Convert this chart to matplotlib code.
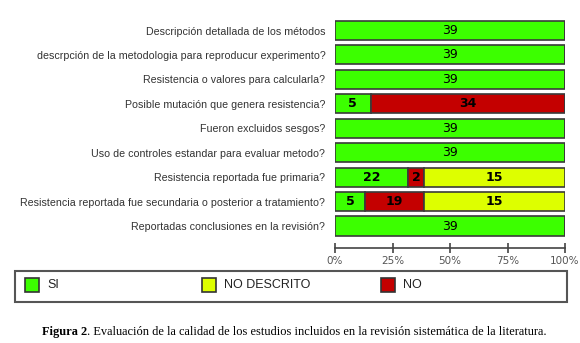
import matplotlib
matplotlib.use("Agg")
import matplotlib.pyplot as plt
from matplotlib.patches import Rectangle

# preguntas (de arriba hacia abajo)
preguntas = [
    "Descripción detallada de los métodos",
    "descrpción de la metodologia para reproducur experimento?",
    "Resistencia o valores para calcularla?",
    "Posible mutación que genera resistencia?",
    "Fueron excluidos sesgos?",
    "Uso de controles estandar para evaluar metodo?",
    "Resistencia reportada fue primaria?",
    "Resistencia reportada fue secundaria o posterior a tratamiento?",
    "Reportadas conclusiones en la revisión?",
]

# ancho de cada segmento en % tal como aparece en la figura
si_pct = [100, 100, 100, 15.5, 100, 100, 31.6, 13.0, 100]
no_pct = [0, 0, 0, 84.5, 0, 0, 7.2, 25.8, 0]
nd_pct = [0, 0, 0, 0, 0, 0, 61.2, 61.2, 0]

# numero de estudios escrito en cada segmento
si_n = [39, 39, 39, 5, 39, 39, 22, 5, 39]
no_n = [0, 0, 0, 34, 0, 0, 2, 19, 0]
nd_n = [0, 0, 0, 0, 0, 0, 15, 15, 0]

ticks = [0, 25, 50, 75, 100]
tick_labels = ["0%", "25%", "50%", "75%", "100%"]

c_si = "#3cff00"
c_no = "#c40000"
c_nd = "#ddff00"
edge = "#3a3a3a"

W, H = 580, 343
fig = plt.figure(figsize=(W / 100, H / 100), dpi=100)
ax = fig.add_axes([335 / W, 1 - 248 / H, 230 / W, (248 - 18.3) / H])

y = list(range(len(preguntas)))
left_no = si_pct
left_nd = [a + b for a, b in zip(si_pct, no_pct)]

ax.barh(y, si_pct, height=0.78, color=c_si, edgecolor=edge, linewidth=1.2)
ax.barh(y, no_pct, left=left_no, height=0.78, color=c_no, edgecolor=edge, linewidth=1.2)
ax.barh(y, nd_pct, left=left_nd, height=0.78, color=c_nd, edgecolor=edge, linewidth=1.2)

for i in y:
    mixed = no_n[i] > 0 or nd_n[i] > 0
    fw = "bold" if mixed else "normal"
    segs = [(0, si_pct[i], si_n[i]), (left_no[i], no_pct[i], no_n[i]),
            (left_nd[i], nd_pct[i], nd_n[i])]
    for x0, w, n in segs:
        if n > 0:
            ax.text(x0 + w / 2, i, str(n), ha="center", va="center",
                    fontsize=9, fontweight=fw, color="black", family="DejaVu Sans")

ax.set_xlim(0, 100)
ax.set_ylim(8.9, -0.5)
ax.set_yticks(y)
ax.set_yticklabels(preguntas, family="Liberation Sans", fontsize=7.7, color="#333333")
ax.tick_params(axis="y", length=0, pad=7)
ax.set_xticks(ticks)
ax.set_xticklabels(tick_labels, fontsize=7.5, color="#555555", family="DejaVu Sans")
ax.tick_params(axis="x", direction="inout", length=7, width=1.2, color="#444444", pad=2)
for s in ["top", "right", "left"]:
    ax.spines[s].set_visible(False)
ax.spines["bottom"].set_color("#444444")
ax.spines["bottom"].set_linewidth(1.2)
ax.patch.set_visible(False)

# leyenda
def px(x0, y0, w, h):
    return (x0 / W, 1 - (y0 + h) / H), w / W, h / H

xy, w, h = px(15, 271, 552, 31)
fig.patches.append(Rectangle(xy, w, h, transform=fig.transFigure, fill=False,
                             edgecolor="#555555", linewidth=1.5))
leyenda = [("SI", c_si, 25), ("NO DESCRITO", c_nd, 202), ("NO", c_no, 381)]
for txt, col, x0 in leyenda:
    xy, w, h = px(x0, 278, 14, 14)
    fig.patches.append(Rectangle(xy, w, h, transform=fig.transFigure,
                                 facecolor=col, edgecolor="#333333", linewidth=1.2))
    fig.text((x0 + 22) / W, 1 - 285.5 / H, txt, fontsize=9, color="#222222",
             family="Liberation Sans", va="center", ha="left")

# pie de figura
t1 = fig.text(42 / W, 1 - 332 / H, "Figura 2", fontsize=8.9, fontweight="bold",
              family="Liberation Serif", va="center", ha="left")
fig.canvas.draw()
bb = t1.get_window_extent()
fig.text(bb.x1 / W, 1 - 332 / H,
         ". Evaluación de la calidad de los estudios incluidos en la revisión sistemática de la literatura.",
         fontsize=8.9, family="Liberation Serif", va="center", ha="left")

fig.savefig("out.png", dpi=100)
